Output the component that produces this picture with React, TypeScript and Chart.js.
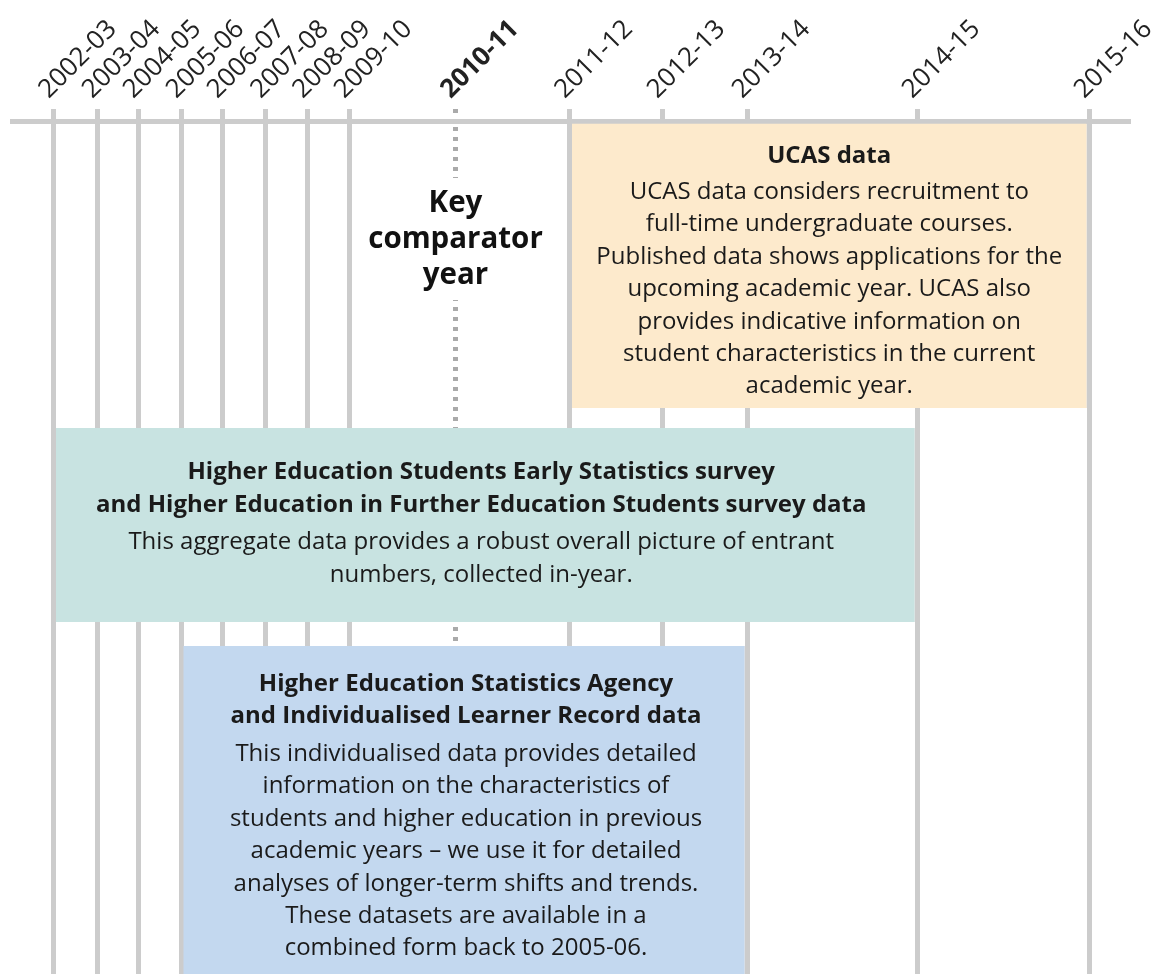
import React, { useEffect, useRef } from 'react';
import { Chart, registerables } from 'chart.js';

Chart.register(...registerables);

// ---- Data ----
const yearLabels = ['2002-03', '2003-04', '2004-05', '2005-06', '2006-07', '2007-08', '2008-09', '2009-10', '2010-11', '2011-12', '2012-13', '2013-14', '2014-15', '2015-16'];
// position of each academic year along the (irregularly spaced) timeline
const yearPositions = [53.5, 97, 138, 181, 222, 265.5, 307.5, 349, 455.5, 569.5, 662, 747, 917, 1089];
const keyYear = '2010-11';
const keyYearNote = ['Key', 'comparator', 'year'];

const sourceNames = ['UCAS', 'HESES/HEIFES', 'HESA/ILR'];
const sourceFrom = ['2011-12', '2002-03', '2005-06'];
const sourceTo = ['2015-16', '2014-15', '2013-14'];
const sourceColors = ['#fdeacc', '#c8e3e1', '#c3d8ef'];
const sourceTitles = [
  ['UCAS data'],
  ['Higher Education Students Early Statistics survey', 'and Higher Education in Further Education Students survey data'],
  ['Higher Education Statistics Agency', 'and Individualised Learner Record data'],
];
const sourceBodies = [
  ['UCAS data considers recruitment to', 'full-time undergraduate courses.', 'Published data shows applications for the', 'upcoming academic year. UCAS also', 'provides indicative information on', 'student characteristics in the current', 'academic year.'],
  ['This aggregate data provides a robust overall picture of entrant', 'numbers, collected in-year.'],
  ['This individualised data provides detailed', 'information on the characteristics of', 'students and higher education in previous', 'academic years \u2013 we use it for detailed', 'analyses of longer-term shifts and trends.', 'These datasets are available in a', 'combined form back to 2005-06.'],
];

// ---- Layout (pixels) ----
const ROW_LAYOUT = [
  { top: 123.5, bottom: 408, title: 39.5, body: 75.5, lh: 32.4, dx: 0 },
  { top: 428, bottom: 622, title: 50.5, body: 121, lh: 33, dx: -4 },
  { top: 646, bottom: 1046, title: 45, body: 115, lh: 32.4, dx: 2 },
];
const KEY_NOTE = { first: 212, lh: 36, gapTop: 178, gapBottom: 300 };
const FONT = 'Open Sans';
const GRID = '#cccccc';
const DOT = '#aaaaaa';

const posOf = (label: string) => yearPositions[yearLabels.indexOf(label)];
const keyPos = posOf(keyYear);
const isKey = (ctx: any) => !!ctx.tick && ctx.tick.value === keyPos;

const textPlugin = {
  id: 'boxText',
  beforeDatasetsDraw(chart: any) {
    const ctx = chart.ctx;
    const x = chart.scales.x.getPixelForValue(keyPos);
    ctx.save();
    ctx.fillStyle = '#ffffff';
    ctx.fillRect(x - 7, KEY_NOTE.gapTop, 14, KEY_NOTE.gapBottom - KEY_NOTE.gapTop);
    ctx.restore();
  },
  afterDatasetsDraw(chart: any) {
    const ctx = chart.ctx;
    ctx.save();
    ctx.textAlign = 'center';
    ctx.textBaseline = 'alphabetic';
    ctx.fillStyle = '#1a1a1a';
    sourceNames.forEach((_, i) => {
      const el = chart.getDatasetMeta(i).data[0];
      if (!el) return;
      const p = el.getProps(['x', 'base', 'y', 'height'], true);
      const L = ROW_LAYOUT[i];
      const cx = (p.x + p.base) / 2 + L.dx;
      const top = p.y - p.height / 2;
      ctx.font = `bold 24px "${FONT}"`;
      sourceTitles[i].forEach((t, k) => ctx.fillText(t, cx, top + L.title + k * L.lh));
      ctx.font = `24px "${FONT}"`;
      sourceBodies[i].forEach((t, k) => ctx.fillText(t, cx, top + L.body + k * L.lh));
    });
    const kx = chart.scales.x.getPixelForValue(keyPos);
    ctx.font = `bold 29.5px "${FONT}"`;
    ctx.fillStyle = '#111111';
    keyYearNote.forEach((t, k) => ctx.fillText(t, kx, KEY_NOTE.first + k * KEY_NOTE.lh));
    ctx.restore();
  },
};

export default function App() {
  const ref = useRef<HTMLCanvasElement | null>(null);
  useEffect(() => {
    if (!ref.current) return;
    const datasets = sourceNames.map((name, i) => {
      const L = ROW_LAYOUT[i];
      return {
        label: name,
        data: [{ x: [posOf(sourceFrom[i]), posOf(sourceTo[i])], y: (L.top + L.bottom) / 2 }],
        backgroundColor: sourceColors[i],
        borderColor: GRID,
        borderWidth: { left: 2.5, right: 2.5, top: 0, bottom: 0 },
        borderSkipped: false,
        barThickness: L.bottom - L.top,
        stack: 'boxes',
        inflateAmount: 0,
      };
    });
    const chart = new Chart(ref.current, {
      type: 'bar',
      data: { datasets: datasets as any },
      options: {
        indexAxis: 'y',
        animation: false,
        responsive: false,
        devicePixelRatio: 1,
        layout: { padding: { left: 12, right: 31, top: 0, bottom: 0 } },
        plugins: { legend: { display: false }, tooltip: { enabled: false }, title: { display: false } },
        scales: {
          x: {
            type: 'linear',
            position: 'top',
            min: 12,
            max: 1128,
            stacked: false,
            offset: false,
            afterBuildTicks: (scale: any) => {
              scale.ticks = yearPositions.map((v) => ({ value: v }));
            },
            afterFit: (scale: any) => {
              scale.height = 121;
              scale.paddingLeft = 0;
              scale.paddingRight = 0;
            },
            grid: {
              offset: false,
              color: (ctx: any) => (isKey(ctx) ? DOT : GRID),
              lineWidth: 5,
              tickLength: 12,
              tickWidth: 5,
              tickColor: (ctx: any) => (isKey(ctx) ? DOT : GRID),
              tickBorderDash: (ctx: any) => (isKey(ctx) ? [4, 6] : []),
            },
            border: {
              display: true,
              color: GRID,
              width: 5,
              dash: (ctx: any) => (isKey(ctx) ? [4, 6] : []),
              dashOffset: -3,
            },
            ticks: {
              autoSkip: false,
              minRotation: 45,
              maxRotation: 45,
              padding: 4,
              labelOffset: 12,
              color: '#222222',
              font: (ctx: any) => ({ family: FONT, size: 26, weight: isKey(ctx) ? 'bold' : 'normal' }),
              callback: (_v: any, i: number) => yearLabels[i],
            },
          },
          y: {
            type: 'linear',
            display: false,
            reverse: true,
            offset: false,
            grid: { offset: false },
            min: 121,
            max: 974,
            stacked: true,
          },
        },
      } as any,
      plugins: [textPlugin],
    });
    return () => chart.destroy();
  }, []);
  return (
    <div style={{ position: 'absolute', left: 0, top: 0, width: 1159, height: 974, background: '#ffffff' }}>
      <canvas ref={ref} width={1159} height={974} />
    </div>
  );
}
